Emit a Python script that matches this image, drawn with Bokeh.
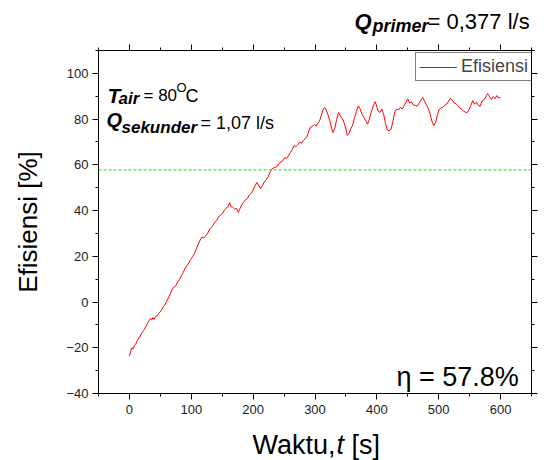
from math import pi
from bokeh.plotting import figure
from bokeh.layouts import column
from bokeh.models import (Label, Span, LinearAxis, SingleIntervalTicker, Legend, LegendItem,
                          CustomJSTickFormatter)
from bokeh.embed import file_html
from bokeh.resources import INLINE

# ---- data ----
time_s = [0, 2, 4, 6, 8, 10, 12, 14, 17, 20, 23, 26, 29, 32, 34, 36, 38, 40, 42, 45,
          48, 51, 54, 57, 60, 63, 66, 69, 72, 75, 78, 81, 84, 87, 90, 93, 96, 99, 102, 105,
          108, 111, 114, 117, 120, 123, 126, 129, 132, 135, 138, 141, 144, 147, 150, 153, 156, 159, 162, 164,
          167, 170, 173, 176, 179, 182, 185, 188, 191, 194, 197, 200, 203, 206, 209, 212, 215, 218, 221, 224,
          227, 230, 233, 236, 239, 242, 245, 248, 251, 254, 257, 260, 263, 266, 269, 272, 275, 278, 281, 284,
          287, 290, 293, 296, 299, 302, 305, 308, 311, 314, 316, 318, 321, 324, 327, 329, 332, 335, 338, 341,
          344, 347, 350, 352, 355, 358, 361, 364, 367, 370, 373, 376, 379, 382, 385, 388, 391, 394, 397, 399,
          402, 405, 408, 411, 414, 417, 420, 423, 426, 429, 432, 435, 438, 441, 444, 447, 450, 453, 456, 459,
          462, 465, 468, 471, 474, 477, 480, 483, 486, 489, 492, 495, 498, 501, 504, 507, 510, 513, 516, 519,
          522, 525, 528, 531, 534, 537, 540, 543, 546, 549, 552, 555, 558, 561, 564, 567, 570, 573, 576, 579,
          582, 585, 588, 591, 594, 597, 600]
efisiensi = [-23.7, -21.5, -20.0, -20.5, -19.0, -18.6, -17.2, -16.3, -15.0, -13.6, -12.4, -11.0, -9.5, -8.0, -7.2, -7.9, -6.8, -7.6, -6.4, -6.0,
             -4.8, -3.9, -2.4, -1.3, 0.2, 1.8, 3.4, 5.5, 6.6, 7.2, 8.8, 9.9, 11.5, 12.9, 14.8, 15.9, 17.1, 18.6, 19.8, 21.1,
             23.0, 25.1, 26.9, 28.4, 28.0, 28.9, 29.8, 31.5, 32.6, 33.4, 34.9, 35.6, 37.2, 38.0, 38.6, 39.9, 41.0, 41.6, 43.4, 41.8,
             41.5, 40.7, 40.9, 39.2, 41.0, 42.7, 43.9, 44.6, 45.5, 46.8, 47.6, 49.0, 50.8, 52.3, 51.0, 49.6, 50.9, 52.5, 53.4, 54.6,
             56.6, 58.2, 58.6, 58.9, 59.4, 60.7, 61.2, 61.8, 63.1, 62.8, 63.9, 65.3, 66.6, 68.4, 67.9, 68.7, 69.9, 69.4, 70.6, 71.4,
             72.2, 74.8, 76.5, 76.9, 77.6, 76.9, 78.3, 79.6, 82.5, 84.7, 85.0, 84.1, 81.9, 79.2, 75.8, 74.1, 76.0, 79.8, 82.9, 81.4,
             80.3, 78.4, 75.6, 72.9, 73.6, 75.9, 77.5, 80.7, 83.4, 85.8, 84.5, 82.1, 80.7, 79.3, 77.8, 80.0, 83.1, 85.6, 87.6, 86.4,
             83.5, 82.9, 84.4, 82.0, 78.1, 75.2, 74.9, 75.6, 79.0, 83.1, 84.4, 84.0, 85.1, 84.4, 85.8, 87.4, 88.8, 87.0, 87.5, 86.2,
             86.0, 85.6, 86.9, 88.1, 89.5, 88.0, 86.3, 84.9, 82.3, 79.1, 77.1, 78.6, 82.0, 84.4, 84.9, 85.2, 86.1, 86.6, 87.8, 89.1,
             88.2, 87.0, 86.8, 85.9, 84.9, 84.3, 83.6, 83.0, 82.9, 84.1, 86.0, 88.1, 86.5, 87.4, 86.0, 85.6, 87.9, 88.4, 89.6, 91.1,
             90.0, 88.6, 89.8, 88.9, 90.3, 89.2, 89.5]
efisiensi_rata = 57.8
series_name = "Efisiensi"

FONT = "Liberation Sans"
W = 547
DY = 8  # label baseline correction


def blank(h):
    f = figure(width=W, height=h, x_range=(0, 1), y_range=(0, 1),
               output_backend="svg", toolbar_location=None,
               x_axis_location=None, y_axis_location=None, min_border=0)
    f.outline_line_color = None
    f.xgrid.visible = False
    f.ygrid.visible = False
    return f


def lab(fig, x, y, text, size, style="normal"):
    fig.add_layout(Label(x=x, y=y + DY, x_units="screen", y_units="screen", text=text,
                         text_font=FONT, text_font_size=size, text_font_style=style,
                         text_color="black", text_align="left", text_baseline="alphabetic"))


# ---------- header (Q_primer) ----------
header = blank(42)
lab(header, 256, 13, "Q", "22px", "bold italic")
lab(header, 274, 9, "primer", "18px", "bold italic")
lab(header, 329, 13, "= 0,377 l/s", "22px")

# ---------- main plot ----------
p = figure(width=W, height=378, x_range=(-50, 650), y_range=(-40, 110),
           output_backend="svg", toolbar_location=None,
           min_border_left=98, min_border_right=16, min_border_top=8, min_border_bottom=27,
           x_axis_location=None, y_axis_location=None)
p.outline_line_color = None
p.xgrid.visible = False
p.ygrid.visible = False


def make_axis(dim, labels):
    ticker = SingleIntervalTicker(interval=100 if dim == "x" else 20, num_minor_ticks=2)
    ax = LinearAxis(ticker=ticker)
    ax.axis_line_color = "black"
    ax.major_tick_line_color = "black"
    ax.minor_tick_line_color = "black"
    ax.major_tick_out = 6
    ax.major_tick_in = 0
    ax.minor_tick_out = 3
    ax.minor_tick_in = 0
    ax.major_label_text_font = FONT
    ax.major_label_text_font_size = "13px"
    ax.major_label_text_color = "#222222"
    if labels:
        ax.major_label_standoff = 4 if dim == "y" else 5
    else:
        ax.formatter = CustomJSTickFormatter(code="return ''")
        ax.major_label_standoff = 0
    return ax


xb = make_axis("x", True)
yl = make_axis("y", True)
yl.axis_label = "Efisiensi [%]"
yl.axis_label_text_font = FONT
yl.axis_label_text_font_size = "26px"
yl.axis_label_text_font_style = "normal"
yl.axis_label_text_color = "black"
yl.axis_label_standoff = 20
p.add_layout(xb, "below")
p.add_layout(yl, "left")
p.add_layout(make_axis("x", False), "above")
p.add_layout(make_axis("y", False), "right")

r = p.line(time_s, efisiensi, line_color="#ff0000", line_width=1)

p.add_layout(Span(location=efisiensi_rata, dimension="width", line_color="#33ee33",
                  line_dash="3 2", line_width=1.3))

legend = Legend(items=[LegendItem(label=series_name, renderers=[r])],
                location=(317, 312), orientation="vertical",
                label_text_font=FONT, label_text_font_size="18px",
                glyph_width=38, glyph_height=14, label_height=14, label_standoff=4,
                padding=3, margin=0, spacing=0,
                border_line_color="black", border_line_width=1,
                background_fill_color="white", background_fill_alpha=1)
p.add_layout(legend, "center")

# T_air = 80 oC
lab(p, 9, 290, "T", "21px", "bold italic")
lab(p, 20, 287, "air", "17px", "bold italic")
lab(p, 45, 290, "= 80", "17px")
lab(p, 78, 298, "O", "13px")
lab(p, 87, 290, "C", "18px")

# Q_sekunder = 1,07 l/s
lab(p, 8, 266, "Q", "20px", "bold italic")
lab(p, 23, 258, "sekunder", "17px", "bold italic")
lab(p, 102, 263, "= 1,07 l/s", "18px")

# eta
lab(p, 298, 9, "\u03b7 = 57.8%", "27px")

# ---------- footer (x title) ----------
footer = blank(40)
lab(footer, 154, 8, "Waktu,", "27px")
lab(footer, 238, 8, "t", "27px", "italic")
lab(footer, 253, 8, "[s]", "27px")

layout = column(header, p, footer, spacing=0)
open("out.html", "w").write(file_html(layout, INLINE))
